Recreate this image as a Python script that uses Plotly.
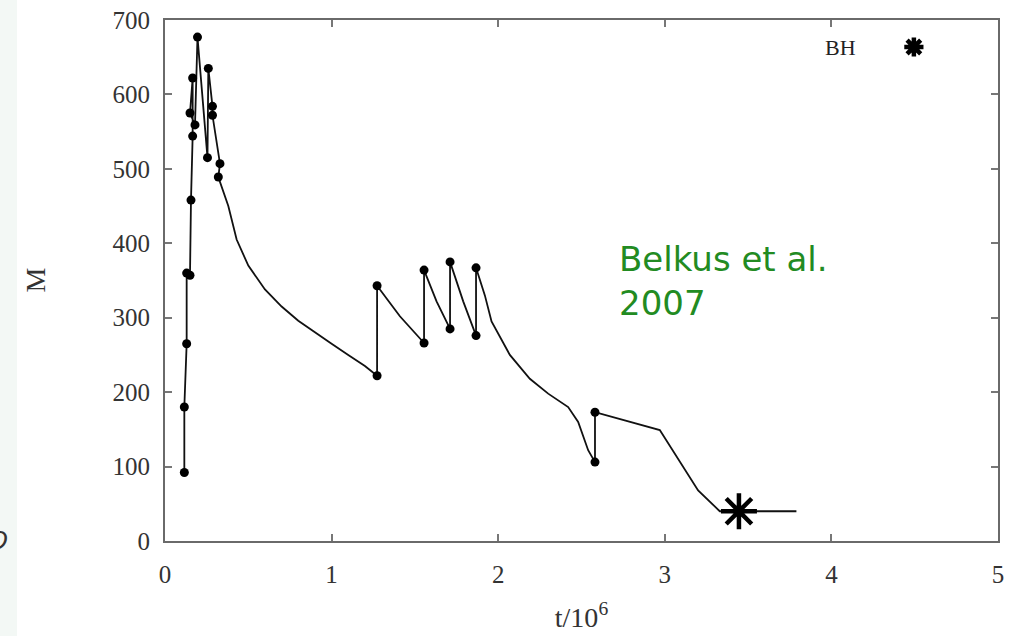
import plotly.graph_objects as go

# Evolution path of the mass M versus time t/10^6
t_path = [0.116, 0.116, 0.130, 0.130, 0.150, 0.156, 0.166, 0.166, 0.150, 0.180, 0.195,
          0.255, 0.260, 0.285, 0.285, 0.330, 0.320,
          0.38, 0.43, 0.50, 0.60, 0.70, 0.80, 0.90, 1.00, 1.10, 1.20, 1.273,
          1.273, 1.41, 1.555, 1.555, 1.63, 1.711, 1.711, 1.79, 1.867, 1.867,
          1.92, 1.96, 2.00, 2.07, 2.19, 2.30, 2.42, 2.48, 2.54, 2.581,
          2.581, 2.97, 3.20, 3.33, 3.445, 3.79]
m_path = [92, 180, 265, 360, 357, 458, 544, 622, 575, 559, 677,
          515, 635, 584, 572, 507, 489,
          450, 405, 370, 338, 315, 296, 280, 265, 250, 235, 222,
          343, 302, 266, 364, 322, 285, 375, 322, 276, 367,
          330, 295, 278, 250, 218, 198, 180, 160, 122, 106,
          173, 149, 68, 40, 40, 40]

# Collision events (dots)
t_dots = [0.116, 0.116, 0.130, 0.130, 0.150, 0.156, 0.150, 0.166, 0.166, 0.180, 0.195,
          0.255, 0.260, 0.285, 0.285, 0.330, 0.320,
          1.273, 1.273, 1.555, 1.555, 1.711, 1.711, 1.867, 1.867, 2.581, 2.581]
m_dots = [92, 180, 265, 360, 357, 458, 575, 544, 622, 559, 677,
          515, 635, 584, 572, 507, 489,
          222, 343, 266, 364, 285, 375, 276, 367, 106, 173]

# Black hole formation
t_bh = [3.445]
m_bh = [40]

x_ticks = [0, 1, 2, 3, 4, 5]
y_ticks = [0, 100, 200, 300, 400, 500, 600, 700]

serif = "Liberation Serif"

fig = go.Figure()
fig.add_trace(go.Scatter(x=t_path, y=m_path, mode="lines",
                         line=dict(color="#111111", width=1.8),
                         showlegend=False, hoverinfo="skip"))
fig.add_trace(go.Scatter(x=t_dots, y=m_dots, mode="markers",
                         marker=dict(color="#000000", size=9),
                         showlegend=False))
fig.add_trace(go.Scatter(x=t_bh, y=m_bh, mode="markers", name=" ",
                         marker=dict(symbol="asterisk-open", size=30, color="#000000",
                                     line=dict(color="#000000", width=4.5)),
                         showlegend=True))

axis_common = dict(showline=True, linecolor="#6a6a6a", linewidth=2, mirror="allticks",
                   ticks="inside", ticklen=7, tickcolor="#777777", tickwidth=1.5,
                   showgrid=False, zeroline=False, automargin=False,
                   tickfont=dict(family=serif, size=25, color="#333333"))

fig.update_layout(
    width=1010, height=636,
    margin=dict(l=165, r=12, t=20, b=95),
    paper_bgcolor="white", plot_bgcolor="white",
    xaxis=dict(range=[0, 5], tickvals=x_ticks, ticktext=[str(v) for v in x_ticks],
               ticklabelstandoff=10,
               title=dict(text="t/10<sup>6</sup>", font=dict(family=serif, size=28, color="#333333"),
                          standoff=20),
               **axis_common),
    yaxis=dict(range=[0, 700], tickvals=y_ticks, ticktext=[str(v) for v in y_ticks],
               ticklabelstandoff=8,
               **axis_common),
    legend=dict(x=0.875, y=0.948, xanchor="left", yanchor="middle",
                bgcolor="rgba(0,0,0,0)",
                font=dict(family=serif, size=16, color="#222222")),
    shapes=[dict(type="rect", xref="paper", yref="paper",
                 x0=-0.2, x1=-0.1777, y0=-0.2, y1=1.1, fillcolor="#f3f8f5",
                 line=dict(width=0), layer="below")],
    annotations=[
        dict(text="BH", xref="paper", yref="paper", x=0.8115, y=0.948,
             showarrow=False, xanchor="center", yanchor="middle",
             font=dict(family=serif, size=22, color="#222222")),
        dict(text="M", xref="paper", yref="paper", x=-0.156, y=0.5, textangle=-90,
             showarrow=False, font=dict(family=serif, size=28, color="#333333"),
             xanchor="center", yanchor="middle"),
        dict(text="Belkus et al.<br>2007", xref="paper", yref="paper", x=0.5426, y=0.499,
             showarrow=False, align="left", xanchor="left", yanchor="middle",
             font=dict(family="DejaVu Sans", size=34, color="#228B22")),
        dict(text="<i>O</i>", xref="paper", yref="paper", x=-0.2, y=0.0, showarrow=False,
             xanchor="center", yanchor="middle",
             font=dict(family="DejaVu Sans", size=24, color="#333333")),
    ],
)

fig.write_html("out.html")
